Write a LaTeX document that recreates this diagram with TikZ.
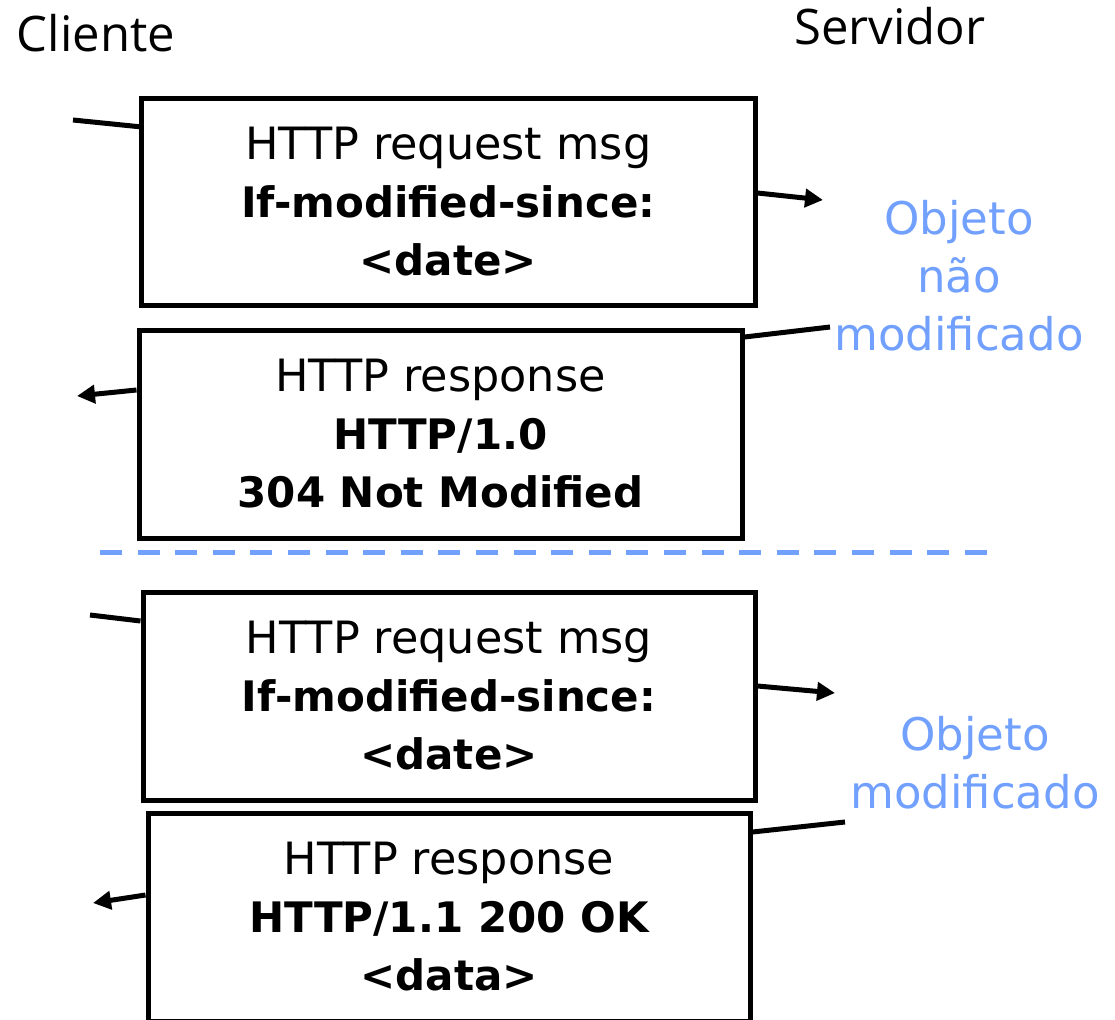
\documentclass[tikz,border=0pt]{standalone}
\usepackage{fontspec}
\setmainfont{DejaVu Sans}
\newfontfamily\sidefont{Open Sans}
\usetikzlibrary{arrows.meta}
\definecolor{objblue}{RGB}{114,160,255}
\newcommand{\boldline}[1]{{\fontsize{42}{58}\selectfont\bfseries #1}}

\begin{document}
\begin{tikzpicture}[x = 1pt, y = -1pt]
\tikzstyle{msgStyle} = [draw, line width = 5pt, align = center, inner sep = 0pt, minimum height = 208pt, font = \fontsize{44.5}{58}\selectfont]
\tikzstyle{sideStyle} = [inner sep = 0pt, anchor = base, font = \sidefont\fontsize{49}{58}\selectfont]
\tikzstyle{noteStyle} = [inner sep = 0pt, align = center, text = objblue, font = \fontsize{45}{58}\selectfont]
\tikzstyle{lineStyle} = [line width = 5pt]
\tikzstyle{arrowStyle} = [line width = 5pt, -{Triangle[length = 18pt, width = 18pt]}]
\useasboundingbox (0,0) rectangle (1115,1019);
\node[sideStyle] (client) at (96,52) {Cliente};
\node[sideStyle] (server) at (890,45) {Servidor};
\node[msgStyle, minimum width = 613.5pt, minimum height = 206.5pt] (req1) at (448.25,201.75) {HTTP request msg\\\boldline{If-modified-since:}\\\boldline{<date>}};
\node[msgStyle, minimum width = 603pt] (resp1) at (440.5,434) {HTTP response\\\boldline{HTTP/1.0}\\\boldline{304 Not Modified}};
\node[msgStyle, minimum width = 612pt] (req2) at (449,696) {HTTP request msg\\\boldline{If-modified-since:}\\\boldline{<date>}};
\node[msgStyle, minimum width = 602pt] (resp2) at (449,917) {HTTP response\\\boldline{HTTP/1.1 200 OK}\\\boldline{<data>}};
\node[noteStyle] (same) at (959,275.5) {Objeto\\não\\modificado};
\node[noteStyle] (changed) at (975,763) {Objeto\\modificado};
\coordinate (in1) at (73,120);
\coordinate (out1) at (823,200);
\coordinate (back1) at (830,327);
\coordinate (ret1) at (77,396);
\coordinate (in2) at (90,615);
\coordinate (out2) at (835,693);
\coordinate (back2) at (845,822);
\coordinate (ret2) at (93,903);
\coordinate (dashL) at (100,552);
\coordinate (dashR) at (989,552);
\draw[lineStyle] (in1) -- ([yshift = -6.7pt]in1 -| req1.west);
\draw[arrowStyle] ([yshift = 7pt]out1 -| req1.east) -- (out1);
\draw[lineStyle] ([yshift = -10pt]back1 -| resp1.east) -- (back1);
\draw[arrowStyle] ([yshift = 6pt]ret1 -| resp1.west) -- (ret1);
\draw[lineStyle] (in2) -- ([yshift = -6pt]in2 -| req2.west);
\draw[arrowStyle] ([yshift = 7pt]out2 -| req2.east) -- (out2);
\draw[lineStyle] ([yshift = -10pt]back2 -| resp2.east) -- (back2);
\draw[arrowStyle] ([yshift = 8pt]ret2 -| resp2.west) -- (ret2);
\draw[objblue, line width = 5pt, dash pattern = on 22pt off 15.6pt] (dashL) -- (dashR);
\end{tikzpicture}
\end{document}
